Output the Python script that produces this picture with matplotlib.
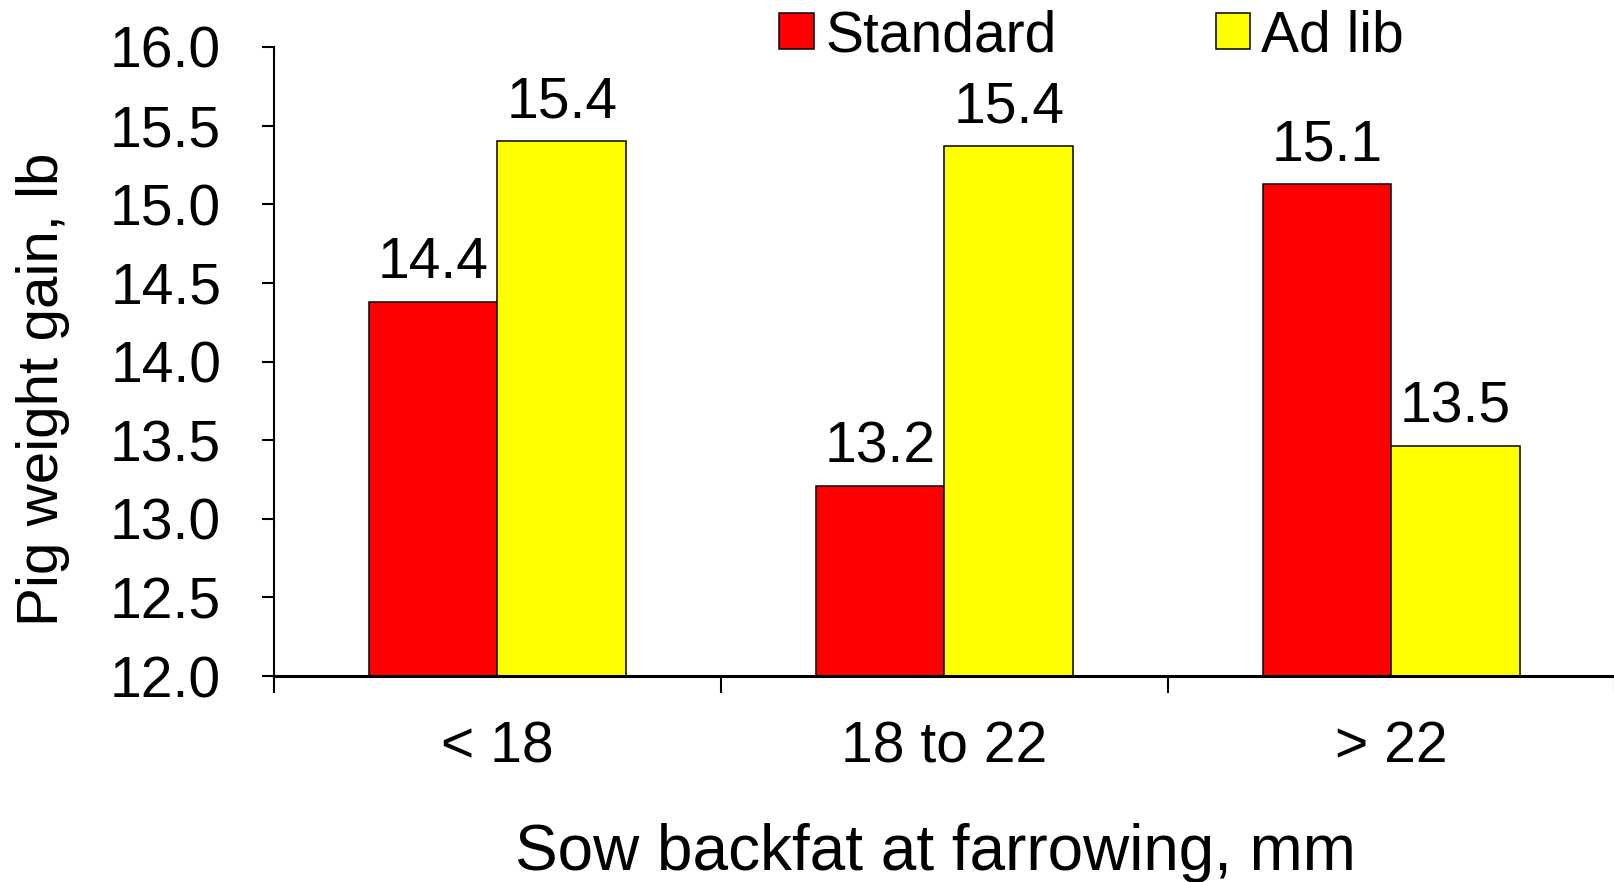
import numpy as np
import matplotlib
matplotlib.use('Agg')
import matplotlib.pyplot as plt

plt.rcParams['font.family'] = ['Liberation Sans', 'DejaVu Sans']

# pig weight gain (lb) by sow backfat group and feeding regime
groups = ['< 18', '18 to 22', '> 22']
standard = [14.38, 13.21, 15.13]
ad_lib = [15.40, 15.37, 13.46]
series_names = ['Standard', 'Ad lib']

W, H = 1615, 882
fig = plt.figure(figsize=(W / 100, H / 100), dpi=100)
ax = fig.add_axes([274 / W, 206 / H, (W - 274) / W, (676 - 47) / H])

x = np.arange(len(groups))
bw = 0.287
b1 = ax.bar(x - bw / 2, standard, bw, color='#ff0000', edgecolor='black',
            linewidth=1.1, label=series_names[0])
b2 = ax.bar(x + bw / 2, ad_lib, bw, color='#ffff00', edgecolor='black',
            linewidth=1.1, label=series_names[1])

for bars in (b1, b2):
    for p in bars:
        v = p.get_height()
        ax.annotate('%.1f' % v, (p.get_x() + p.get_width() / 2, v),
                    xytext=(0, 17), textcoords='offset points',
                    ha='center', va='baseline', fontsize=41)

ax.set_xlim(-0.5, 2.453)
ax.set_ylim(12, 16)
ax.set_yticks(np.arange(12, 16.01, 0.5))
ax.set_yticklabels(['%.1f' % t for t in np.arange(12, 16.01, 0.5)], fontsize=41)
ax.tick_params(axis='y', length=9, width=1.5, pad=29)

# category labels centred, tick marks between groups
ax.set_xticks(x)
ax.set_xticklabels(groups, fontsize=41)
ax.set_xticks([-0.5, 0.5, 1.5, 2.5], minor=True)
ax.tick_params(axis='x', which='major', length=0, pad=32)
ax.tick_params(axis='x', which='minor', length=12, width=1.5)

for s in ('top', 'right'):
    ax.spines[s].set_visible(False)
ax.spines['left'].set_linewidth(1.5)
ax.spines['bottom'].set_linewidth(2.2)

ax.set_ylabel('Pig weight gain, lb', fontsize=42, va='center')
ax.yaxis.set_label_coords((43 - 274) / (W - 274), 0.456)
fig.text(935 / W, 12 / H, 'Sow backfat at farrowing, mm', fontsize=46,
         ha='center', va='baseline')

ax.legend(loc='center left', bbox_to_anchor=(751 / W, 1 - 36 / H),
          bbox_transform=fig.transFigure, ncol=2, frameon=False,
          fontsize=41, borderpad=0, handlelength=0.6, handleheight=0.6,
          handletextpad=0.2, columnspacing=2.8)

fig.savefig('out.png', dpi=100)
